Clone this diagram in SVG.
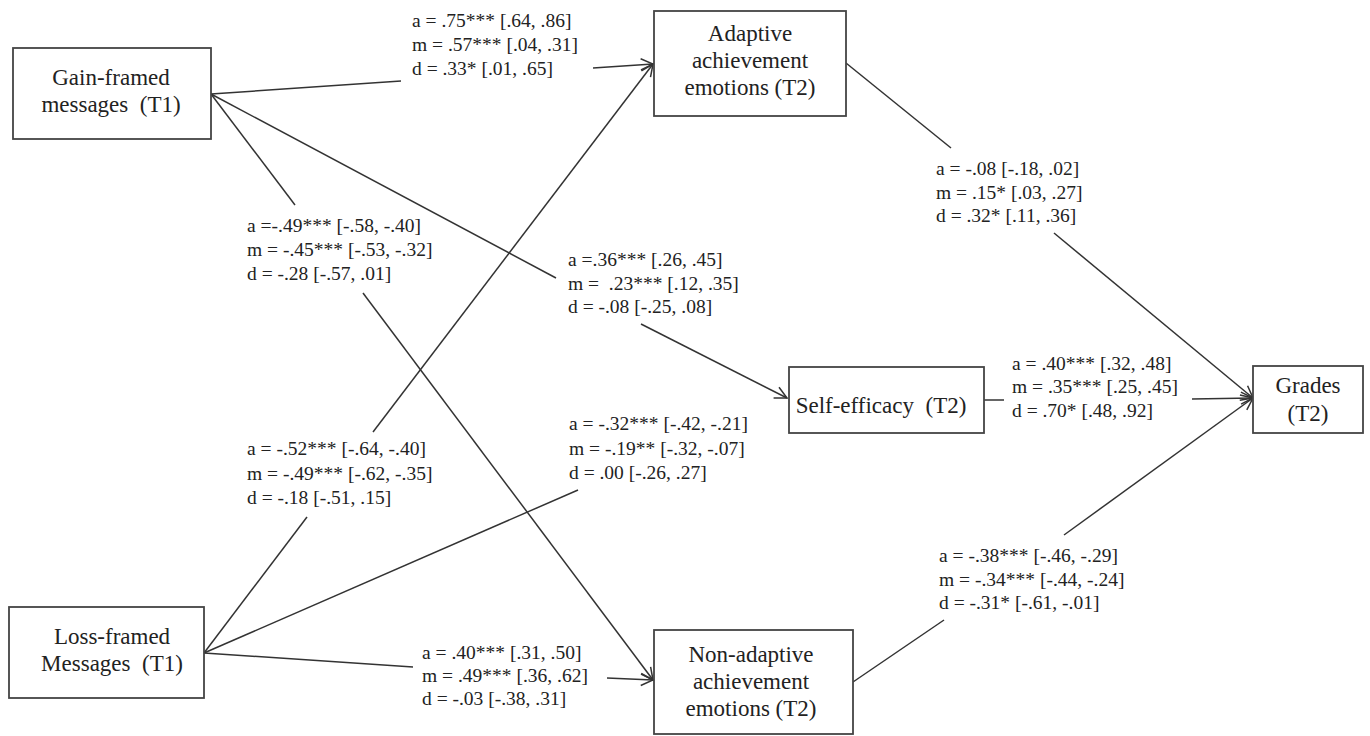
<svg xmlns="http://www.w3.org/2000/svg" width="1370" height="736" viewBox="0 0 1370 736">
<style>
.box{fill:#fff;stroke:#444;stroke-width:1.8}
.nt{font-family:"Liberation Serif","Times New Roman",serif;font-size:23px;fill:#222;text-anchor:middle;white-space:pre}
.lb{font-family:"Liberation Serif","Times New Roman",serif;font-size:19.5px;fill:#222;white-space:pre}
.c{stroke:#333;stroke-width:1.5;fill:none}
.ar{marker-end:url(#arr)}
</style>
<defs>
<marker id="arr" markerWidth="16" markerHeight="16" refX="13" refY="7" orient="auto" markerUnits="userSpaceOnUse">
<path d="M1,1 L13,7 L1,13" fill="none" stroke="#333" stroke-width="1.5"/>
</marker>
</defs>
<rect width="1370" height="736" fill="#fff"/>
<g id="connectors">
<line class="c" x1="211" y1="94" x2="401" y2="81"/>
<line class="c ar" x1="593" y1="68" x2="653" y2="64"/>
<line class="c" x1="211" y1="94" x2="295" y2="205"/>
<line class="c ar" x1="363" y1="293" x2="653" y2="680"/>
<line class="c" x1="211" y1="94" x2="556" y2="278"/>
<line class="c ar" x1="641" y1="324" x2="787" y2="398"/>
<line class="c" x1="204" y1="653" x2="307" y2="517"/>
<line class="c ar" x1="373" y1="432" x2="653" y2="64"/>
<line class="c" x1="204" y1="653" x2="578" y2="490"/>
<line class="c" x1="204" y1="653" x2="413" y2="667"/>
<line class="c ar" x1="607" y1="678" x2="653" y2="680"/>
<line class="c" x1="846" y1="63" x2="951" y2="148"/>
<line class="c ar" x1="1054" y1="233" x2="1253" y2="398"/>
<line class="c" x1="984" y1="400" x2="1004" y2="400"/>
<line class="c ar" x1="1192" y1="399" x2="1253" y2="398"/>
<line class="c" x1="853" y1="682" x2="944" y2="620"/>
<line class="c ar" x1="1064" y1="535" x2="1253" y2="398"/>
</g>
<g id="labels">
<g id="lbl-gain-adaptive"><text class="lb" x="412" y="27">a = .75*** [.64, .86]</text><text class="lb" x="412" y="51">m = .57*** [.04, .31]</text><text class="lb" x="412" y="75">d = .33* [.01, .65]</text></g>
<g id="lbl-adaptive-grades"><text class="lb" x="936" y="175">a = -.08 [-.18, .02]</text><text class="lb" x="936" y="199">m = .15* [.03, .27]</text><text class="lb" x="936" y="222">d = .32* [.11, .36]</text></g>
<g id="lbl-gain-nonadaptive"><text class="lb" x="247" y="232">a =-.49*** [-.58, -.40]</text><text class="lb" x="247" y="256">m = -.45*** [-.53, -.32]</text><text class="lb" x="247" y="280">d = -.28 [-.57, .01]</text></g>
<g id="lbl-gain-self"><text class="lb" x="568" y="266">a =.36*** [.26, .45]</text><text class="lb" x="568" y="290">m =  .23*** [.12, .35]</text><text class="lb" x="568" y="313">d = -.08 [-.25, .08]</text></g>
<g id="lbl-self-grades"><text class="lb" x="1012" y="370">a = .40*** [.32, .48]</text><text class="lb" x="1012" y="393">m = .35*** [.25, .45]</text><text class="lb" x="1012" y="417">d = .70* [.48, .92]</text></g>
<g id="lbl-loss-self"><text class="lb" x="569" y="430">a = -.32*** [-.42, -.21]</text><text class="lb" x="569" y="455">m = -.19** [-.32, -.07]</text><text class="lb" x="569" y="479">d = .00 [-.26, .27]</text></g>
<g id="lbl-loss-adaptive"><text class="lb" x="247" y="455">a = -.52*** [-.64, -.40]</text><text class="lb" x="247" y="480">m = -.49*** [-.62, -.35]</text><text class="lb" x="247" y="504">d = -.18 [-.51, .15]</text></g>
<g id="lbl-nonadaptive-grades"><text class="lb" x="939" y="562">a = -.38*** [-.46, -.29]</text><text class="lb" x="939" y="586">m = -.34*** [-.44, -.24]</text><text class="lb" x="939" y="609">d = -.31* [-.61, -.01]</text></g>
<g id="lbl-loss-nonadaptive"><text class="lb" x="422" y="659">a = .40*** [.31, .50]</text><text class="lb" x="422" y="682">m = .49*** [.36, .62]</text><text class="lb" x="422" y="705">d = -.03 [-.38, .31]</text></g>
</g>
<g id="gain"><rect class="box" x="13" y="48" width="198" height="91"/><text class="nt" x="111" y="85">Gain-framed</text><text class="nt" x="111" y="112">messages  (T1)</text></g>
<g id="adaptive"><rect class="box" x="654" y="11" width="192" height="105"/><text class="nt" x="750" y="41">Adaptive</text><text class="nt" x="750" y="68">achievement</text><text class="nt" x="750" y="95">emotions (T2)</text></g>
<g id="self"><rect class="box" x="789" y="367" width="195" height="66"/><text class="nt" x="881" y="413">Self-efficacy  (T2)</text></g>
<g id="grades"><rect class="box" x="1253" y="366" width="110" height="67"/><text class="nt" x="1308" y="393">Grades</text><text class="nt" x="1308" y="421">(T2)</text></g>
<g id="loss"><rect class="box" x="9" y="607" width="195" height="91"/><text class="nt" x="112" y="644">Loss-framed</text><text class="nt" x="112" y="671">Messages  (T1)</text></g>
<g id="nonadaptive"><rect class="box" x="654" y="630" width="199" height="104"/><text class="nt" x="751" y="662">Non-adaptive</text><text class="nt" x="751" y="689">achievement</text><text class="nt" x="751" y="716">emotions (T2)</text></g>
</svg>
